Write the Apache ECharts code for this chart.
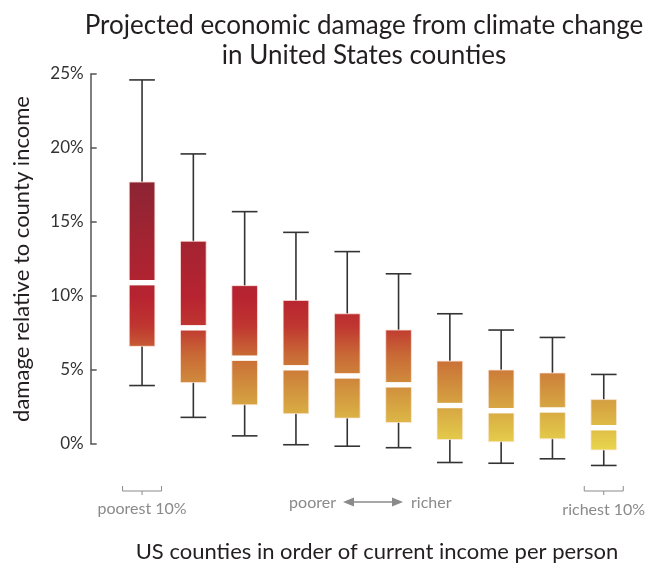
<!DOCTYPE html>
<html>
<head>
<meta charset="utf-8">
<script src="https://cdn.jsdelivr.net/npm/echarts@6/dist/echarts.min.js"></script>
<style>
html,body{margin:0;padding:0;background:#fff;}
#chart{width:659px;height:566px;}
</style>
</head>
<body>
<div id="chart"></div>
<script>
// Income deciles (poorest -> richest)
const categories = ['1','2','3','4','5','6','7','8','9','10'];
// Damage as % of county income
const whiskerLow  = [3.95, 1.8, 0.55, -0.05, -0.15, -0.25, -1.25, -1.3, -1.0, -1.45];
const q1          = [6.6, 4.15, 2.65, 2.05, 1.75, 1.45, 0.3, 0.15, 0.35, -0.4];
const median      = [10.9, 7.85, 5.8, 5.15, 4.6, 4.0, 2.6, 2.25, 2.3, 1.1];
const q3          = [17.7, 13.7, 10.7, 9.7, 8.8, 7.7, 5.6, 5.0, 4.8, 3.0];
const whiskerHigh = [24.6, 19.6, 15.7, 14.3, 13.0, 11.5, 8.8, 7.7, 7.2, 4.7];
const yTicks = [0, 5, 10, 15, 20, 25];

// colour ramp by value (%)
const rampValues = [18, 14, 10, 8, 6, 4, 2, 0, -1.5];
const rampColors = ['#8a2434', '#a22432', '#b72330', '#bf3530', '#c96a36', '#d08d3c', '#d9ae44', '#e5cf4b', '#efe352'];

const FONT = 'Lato, "Open Sans", sans-serif';
const boxData = categories.map((c, i) => [i, whiskerLow[i], q1[i], median[i], q3[i], whiskerHigh[i]]);

const rTop = rampValues[0], rBot = rampValues[rampValues.length - 1];
const stops = rampValues.map((v, i) => ({offset: (rTop - v) / (rTop - rBot), color: rampColors[i]}));

function renderItem(params, api) {
  const x = api.value(0);
  const lo = api.coord([x, api.value(1)]);
  const b1 = api.coord([x, api.value(2)]);
  const md = api.coord([x, api.value(3)]);
  const b3 = api.coord([x, api.value(4)]);
  const hi = api.coord([x, api.value(5)]);
  const bw = api.size([1, 0])[0] * 0.5;
  const gy0 = api.coord([x, rTop])[1];
  const gy1 = api.coord([x, rBot])[1];
  const grad = new echarts.graphic.LinearGradient(0, gy0, 0, gy1, stops, true);
  const ls = {stroke: '#333', lineWidth: 1.6};
  const cx = lo[0];
  return {
    type: 'group',
    children: [
      {type: 'line', shape: {x1: cx, y1: lo[1], x2: cx, y2: hi[1]}, style: ls},
      {type: 'line', shape: {x1: cx - bw / 2, y1: lo[1], x2: cx + bw / 2, y2: lo[1]}, style: ls},
      {type: 'line', shape: {x1: cx - bw / 2, y1: hi[1], x2: cx + bw / 2, y2: hi[1]}, style: ls},
      {type: 'rect', shape: {x: cx - bw / 2, y: b3[1], width: bw, height: b1[1] - b3[1]},
        style: {fill: grad, stroke: 'rgba(255,235,225,0.55)', lineWidth: 0.8}},
      {type: 'rect', shape: {x: cx - bw / 2 - 0.5, y: md[1] - 2.7, width: bw + 1, height: 5.4},
        style: {fill: '#ffffff'}}
    ]
  };
}

const chart = echarts.init(document.getElementById('chart'), null, {renderer: 'canvas'});
const option = {
  animation: false,
  backgroundColor: '#ffffff',
  title: {
    text: 'Projected economic damage from climate change\nin United States counties',
    left: 359, top: 6, textAlign: 'center',
    textStyle: {fontFamily: FONT, fontSize: 26, fontWeight: 'normal', color: '#231f20', lineHeight: 30}
  },
  grid: {left: 116.4, right: 29.6, top: 74, bottom: 122, containLabel: false},
  xAxis: {
    type: 'category', data: categories, show: false, boundaryGap: true
  },
  yAxis: {
    type: 'value', min: 0, max: 25, interval: 5, offset: 25.7,
    name: 'damage relative to county income',
    nameLocation: 'middle', nameRotate: 90, nameGap: 58,
    nameTextStyle: {fontFamily: FONT, fontSize: 22, color: '#231f20'},
    axisLine: {show: true, lineStyle: {color: '#555', width: 1.5}},
    axisTick: {show: true, inside: true, length: 6, lineStyle: {color: '#555', width: 1.5}},
    splitLine: {show: false},
    axisLabel: {
      fontFamily: FONT, fontSize: 17, color: '#333', margin: 7,
      formatter: v => (yTicks.indexOf(v) >= 0 ? v + '%' : '')
    }
  },
  series: [{
    type: 'custom', renderItem: renderItem, data: boxData, clip: false,
    encode: {x: 0, y: [1, 2, 3, 4, 5]}
  }]
};
chart.setOption(option);

// annotations below the plot
const xFirst = chart.convertToPixel({xAxisIndex: 0}, categories[0]);
const xLast = chart.convertToPixel({xAxisIndex: 0}, categories[categories.length - 1]);
const grey = '#8a8a8a';
function bracket(cx) {
  const h = 19.5, yTop = 486, yBar = 491;
  return {
    type: 'polyline',
    shape: {points: [[cx - h, yTop], [cx - h, yBar], [cx + h, yBar], [cx + h, yTop]]},
    style: {stroke: grey, lineWidth: 1, fill: null}
  };
}
function stem(cx) {
  return {type: 'line', shape: {x1: cx, y1: 491, x2: cx, y2: 495}, style: {stroke: grey, lineWidth: 1}};
}
const txt = (text, x, y, align, size, color) => ({
  type: 'text', x: x, y: y,
  style: {text: text, fontFamily: FONT, fontSize: size, fill: color, align: align, verticalAlign: 'middle'}
});
chart.setOption({
  graphic: [
    bracket(xFirst), stem(xFirst),
    bracket(xLast), stem(xLast),
    txt('poorest 10%', xFirst, 509, 'center', 16, grey),
    txt('richest 10%', xLast, 510, 'center', 16, grey),
    txt('poorer', 336, 503, 'right', 16, grey),
    txt('richer', 411, 503, 'left', 16, grey),
    {type: 'line', shape: {x1: 350, y1: 502, x2: 396, y2: 502}, style: {stroke: grey, lineWidth: 1.3}},
    {type: 'polygon', shape: {points: [[343, 502], [354, 497.5], [354, 506.5]]}, style: {fill: grey}},
    {type: 'polygon', shape: {points: [[403, 502], [392, 497.5], [392, 506.5]]}, style: {fill: grey}},
    txt('US counties in order of current income per person', 377, 552, 'center', 22, '#231f20')
  ]
});
</script>
</body>
</html>
